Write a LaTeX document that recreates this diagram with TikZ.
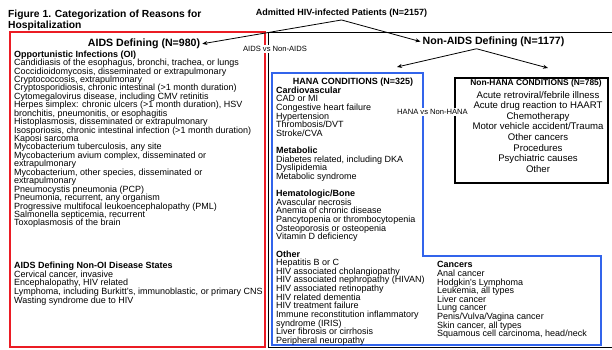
\documentclass[tikz,border=0pt]{standalone}
\usepackage{fontspec}
\setmainfont{Liberation Sans}
\usetikzlibrary{arrows.meta, positioning}
\definecolor{aidsred}{RGB}{235,28,36}
\definecolor{hanablue}{RGB}{50,100,235}

\begin{document}
\begin{tikzpicture}[x=1pt, y=-1pt,
    every node/.style={inner sep=0pt},
    listtext/.style={anchor=north west, align=left, font={\fontsize{9}{8.6}\selectfont\lineskiplimit=-6pt}},
    headtext/.style={anchor=base, inner sep=2pt, font=\bfseries\fontsize{10.6}{12}\selectfont},
    vslabel/.style={fill=white, inner sep=1pt, font=\fontsize{7.6}{9}\selectfont},
    branch/.style={-{Stealth[length=5pt, width=4pt]}, line width=0.8pt},
    aidsframe/.style={draw=black!70, double=aidsred, double distance=1.3pt, line width=0.3pt},
    hanaframe/.style={draw=hanablue, line width=1.3pt}
]
    \useasboundingbox (0,0) rectangle (612,349);

    % Title
    \node[anchor=north west, align=left, font={\bfseries\fontsize{10.3}{11.7}\selectfont}] (title) at (8,9.5)
        {Figure 1. Categorization of Reasons for\\Hospitalization};

    % Frames
    \draw[aidsframe] (10,32) rectangle (265,347);
    \draw[line width=1pt] (614,32) -- (268,32) -- (268,347.5) -- (614,347.5);
    \draw[hanaframe] (272,73) -- (423,73) -- (423,256) -- (601,256) -- (601,345) -- (272,345) -- cycle;
    \node[draw, line width=1.2pt, minimum width=153pt, minimum height=105pt] (nonhanabox) at (531.5,130.5) {};

    % Top of the tree
    \node[headtext, font=\bfseries\fontsize{9}{11}\selectfont] (admitted) at (341.5,15.9) {Admitted HIV-infected Patients (N=2157)};
    \node[headtext] (aids) at (144,46.5) {AIDS Defining (N=980)};
    \node[headtext] (nonaids) at (493.5,44.3) {Non-AIDS Defining (N=1177)};
    \coordinate (hanatip) at (397,67);
    \coordinate (nonhanatip) at (548,68);

    \draw[branch] (admitted.south) -- (aids.east);
    \draw[branch] (admitted.south) -- (nonaids.west);
    \draw[branch] ([xshift=-17pt]nonaids.south) -- (hanatip);
    \draw[branch] ([xshift=-17pt]nonaids.south) -- (nonhanatip);

    % Comparison labels
    \node[vslabel] (aidsvs) at (275,49) {AIDS vs Non-AIDS};
    \node[vslabel] (hanavs) at (432.5,112) {HANA vs Non-HANA};

    % AIDS defining conditions
    \node[listtext, font={\fontsize{9}{8.44}\selectfont\lineskiplimit=-6pt}] (oilist) at (14,50.4)
        {\textbf{Opportunistic Infections (OI)}\\
        Candidiasis of the esophagus, bronchi, trachea, or lungs\\
        Coccidioidomycosis, disseminated or extrapulmonary\\
        Cryptococcosis, extrapulmonary\\
        Cryptosporidiosis, chronic intestinal (>1 month duration)\\
        Cytomegalovirus disease, including CMV retinitis\\
        Herpes simplex: chronic ulcers (>1 month duration), HSV\\
        bronchitis, pneumonitis, or esophagitis\\
        Histoplasmosis, disseminated or extrapulmonary\\
        Isosporiosis, chronic intestinal infection (>1 month duration)\\
        Kaposi sarcoma\\
        Mycobacterium tuberculosis, any site\\
        Mycobacterium avium complex, disseminated or\\
        extrapulmonary\\
        Mycobacterium, other species, disseminated or\\
        extrapulmonary\\
        Pneumocystis pneumonia (PCP)\\
        Pneumonia, recurrent, any organism\\
        Progressive multifocal leukoencephalopathy (PML)\\
        Salmonella septicemia, recurrent\\
        Toxoplasmosis of the brain};
    \node[listtext] (nonoilist) at (14,262)
        {\textbf{AIDS Defining Non-OI Disease States}\\
        Cervical cancer, invasive\\
        Encephalopathy, HIV related\\
        Lymphoma, including Burkitt’s, immunoblastic, or primary CNS\\
        Wasting syndrome due to HIV};

    % HANA conditions
    \node[anchor=base, font=\bfseries\fontsize{9}{11}\selectfont] (hana) at (353,84.9) {HANA CONDITIONS (N=325)};
    \node[listtext, font={\fontsize{9}{8.63}\selectfont\lineskiplimit=-6pt}] (hanalist) at (276,86.4)
        {\textbf{Cardiovascular}\\
        CAD or MI\\
        Congestive heart failure\\
        Hypertension\\
        Thrombosis/DVT\\
        Stroke/CVA\\[8.63pt]
        \textbf{Metabolic}\\
        Diabetes related, including DKA\\
        Dyslipidemia\\
        Metabolic syndrome\\[8.63pt]
        \textbf{Hematologic/Bone}\\
        Avascular necrosis\\
        Anemia of chronic disease\\
        Pancytopenia or thrombocytopenia\\
        Osteoporosis or osteopenia\\
        Vitamin D deficiency\\[8.63pt]
        \textbf{Other}\\
        Hepatitis B or C\\
        HIV associated cholangiopathy\\
        HIV associated nephropathy (HIVAN)\\
        HIV associated retinopathy\\
        HIV related dementia\\
        HIV treatment failure\\
        Immune reconstitution inflammatory\\
        syndrome (IRIS)\\
        Liver fibrosis or cirrhosis\\
        Peripheral neuropathy};
    \node[listtext] (cancerlist) at (437,261.4)
        {\textbf{Cancers}\\
        Anal cancer\\
        Hodgkin\textquotesingle s Lymphoma\\
        Leukemia, all types\\
        Liver cancer\\
        Lung cancer\\
        Penis/Vulva/Vagina cancer\\
        Skin cancer, all types\\
        Squamous cell carcinoma, head/neck};

    % Non-HANA conditions
    \node[anchor=base, font=\bfseries\fontsize{8.4}{10}\selectfont] (nonhana) at (536,85.8) {Non-HANA CONDITIONS (N=785)};
    \node[anchor=north, align=center, font={\fontsize{9.6}{10.6}\selectfont\lineskiplimit=-6pt}] (nonhanalist) at (538,91)
        {Acute retroviral/febrile illness\\
        Acute drug reaction to HAART\\
        Chemotherapy\\
        Motor vehicle accident/Trauma\\
        Other cancers\\
        Procedures\\
        Psychiatric causes\\
        Other};
\end{tikzpicture}
\end{document}
